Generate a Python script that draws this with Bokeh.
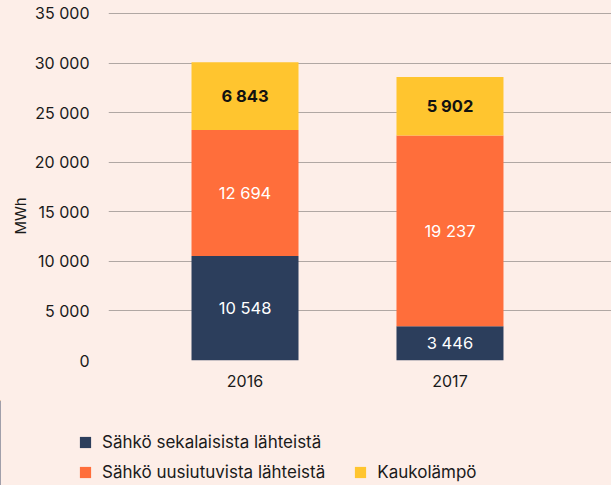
from bokeh.plotting import figure
from bokeh.layouts import column
from bokeh.models import (Legend, LegendItem, FixedTicker, ColumnDataSource, Range1d, Title)
from bokeh.embed import file_html
from bokeh.resources import INLINE
from bokeh.core.properties import value

# ---- data ----
years = ["2016", "2017"]
x_pos = [0, 1]
mixed = [10548, 3446]        # Sähkö sekalaisista lähteistä
renew = [12694, 19237]       # Sähkö uusiutuvista lähteistä
district = [6843, 5902]      # Kaukolämpö
series_names = ["Sähkö sekalaisista lähteistä", "Sähkö uusiutuvista lähteistä", "Kaukolämpö"]
y_ticks = [0, 5000, 10000, 15000, 20000, 25000, 30000, 35000]
y_tick_labels = ["0", "5 000", "10 000", "15 000", "20 000", "25 000", "30 000", "35 000"]
y_label = "MWh"

BG = "#fdeee8"
C_NAVY = "#2c3e5c"
C_ORANGE = "#ff6e3b"
C_YELLOW = "#ffc52f"
TXT = "#1a1a1a"
FONT = "Inter"
colors = [C_NAVY, C_ORANGE, C_YELLOW]
stack_cols = ["mixed", "renew", "district"]


def fmt(v):
    return f"{v:,}".replace(",", " ")


src = ColumnDataSource(dict(x=x_pos, mixed=mixed, renew=renew, district=district))

p = figure(width=611, height=400, output_backend="svg", toolbar_location=None,
           x_range=Range1d(-0.666, 1.788), y_range=Range1d(0, 35100),
           min_border_left=108, min_border_right=0, min_border_top=12,
           min_border_bottom=40)
p.background_fill_color = BG
p.border_fill_color = BG
p.outline_line_color = None

# grid
p.xgrid.grid_line_color = None
p.ygrid.grid_line_color = "#b0a7a3"
p.ygrid.grid_line_width = 1.2
p.ygrid.ticker = FixedTicker(ticks=y_ticks)

rs = p.vbar_stack(stack_cols, x="x", width=0.522,
                  color=colors, line_color=None, source=src)

# value labels (centered in each segment)
wx, wy, wt = [], [], []
for i in range(len(x_pos)):
    wx += [x_pos[i], x_pos[i]]
    wy += [mixed[i] / 2, mixed[i] + renew[i] / 2]
    wt += [fmt(mixed[i]), fmt(renew[i])]
p.text(x=wx, y=wy, text=wt, text_align="center", text_baseline="middle",
       text_color="white", text_font=value(FONT), text_font_size="16.5px")
bx = list(x_pos)
by = [mixed[i] + renew[i] + district[i] / 2 for i in range(len(x_pos))]
bt = [fmt(v) for v in district]
p.text(x=bx, y=by, text=bt, text_align="center", text_baseline="middle",
       text_color="#111111", text_font=value(FONT), text_font_size="16.5px",
       text_font_style="bold")

# y axis
ya = p.yaxis[0]
ya.ticker = FixedTicker(ticks=y_ticks)
ya.major_label_overrides = {t: l for t, l in zip(y_ticks, y_tick_labels)}
ya.axis_line_color = None
ya.major_tick_line_color = None
ya.minor_tick_line_color = None
ya.major_label_standoff = 13
ya.major_label_text_font = FONT
ya.major_label_text_font_size = "16px"
ya.major_label_text_color = TXT

# y axis title (placed lower than the frame centre, as in the original)
yt = Title(text=y_label, align="left", offset=126, text_font=FONT,
           text_font_size="15px", text_font_style="normal", text_color=TXT,
           standoff=4)
p.add_layout(yt, "left")

# x axis
xa = p.xaxis[0]
xa.ticker = FixedTicker(ticks=x_pos)
xa.major_label_overrides = {x: y for x, y in zip(x_pos, years)}
xa.axis_line_color = None
xa.major_tick_line_color = None
xa.minor_tick_line_color = None
xa.major_label_standoff = 8
xa.major_label_text_font = FONT
xa.major_label_text_font_size = "16px"
xa.major_label_text_color = TXT

# ---- legend panel (its key renderers use the same data, kept out of view) ----
p2 = figure(width=611, height=85, output_backend="svg", toolbar_location=None,
            x_range=Range1d(10, 11), y_range=Range1d(0, 1), min_border=0,
            x_axis_location=None, y_axis_location=None)
p2.frame_align = False
p2.background_fill_color = None
p2.border_fill_color = BG
p2.outline_line_color = None
p2.grid.grid_line_color = None
keys = p2.vbar_stack(stack_cols, x="x", width=0.522, color=colors,
                     line_color=None, source=src)


def mk_legend(items, loc):
    lg = Legend(items=items, location=loc, orientation="horizontal")
    lg.background_fill_alpha = 0
    lg.border_line_color = None
    lg.padding = 0
    lg.margin = 0
    lg.glyph_width = 14
    lg.glyph_height = 14
    lg.label_height = 14
    lg.label_standoff = 10
    lg.spacing = 28
    lg.label_text_font = FONT
    lg.label_text_font_size = "17px"
    lg.label_text_color = TXT
    return lg


leg1 = mk_legend([LegendItem(label=series_names[0], renderers=[keys[0]])], (78, 33))
leg2 = mk_legend([LegendItem(label=series_names[1], renderers=[keys[1]]),
                  LegendItem(label=series_names[2], renderers=[keys[2]])], (78, 3))
p2.add_layout(leg1, "center")
p2.add_layout(leg2, "center")

layout = column(p, p2, spacing=0)
layout.styles = {"background-color": BG}
open("out.html", "w").write(file_html(layout, INLINE))
